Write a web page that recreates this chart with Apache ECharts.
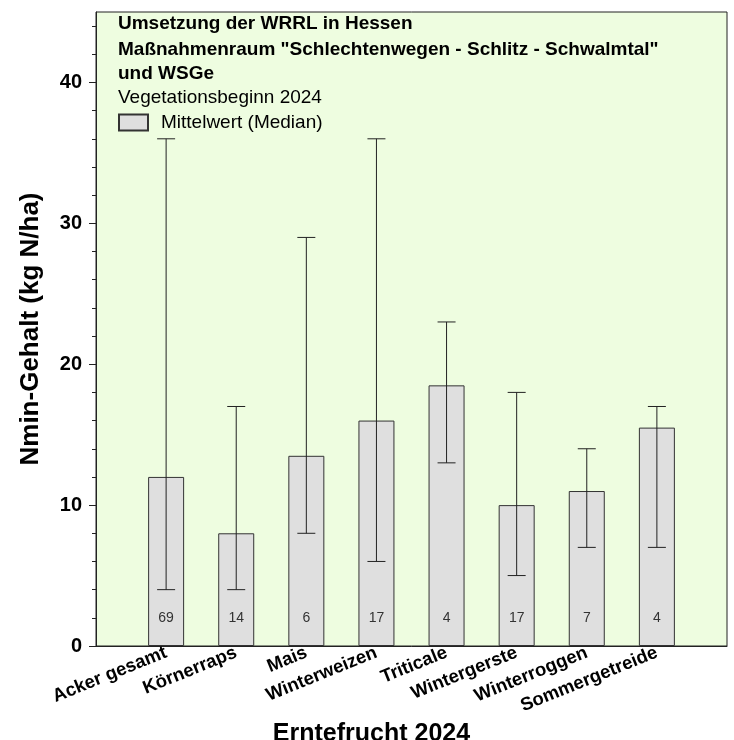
<!DOCTYPE html>
<html>
<head>
<meta charset="utf-8">
<script src="https://cdn.jsdelivr.net/npm/echarts@6/dist/echarts.min.js"></script>
<style>html,body{margin:0;padding:0;background:#fff;}#c{width:734px;height:740px;}</style>
</head>
<body>
<div id="c"></div>
<script>
const categories = ['Acker gesamt', 'Körnerraps', 'Mais', 'Winterweizen', 'Triticale', 'Wintergerste', 'Winterroggen', 'Sommergetreide'];
const medians = [12, 8, 13.5, 16, 18.5, 10, 11, 15.5];
const lows = [4, 4, 8, 6, 13, 5, 7, 7];
const highs = [36, 17, 29, 36, 23, 18, 14, 17];
const counts = [69, 14, 6, 17, 4, 17, 7, 4];
const yTicks = [0, 10, 20, 30, 40];

const axisCats = [''].concat(categories, ['']);
const barData = ['-'].concat(medians, ['-']);
const errData = categories.map((c, i) => [i + 1, lows[i], highs[i]]);

const FONT = 'Liberation Sans, Arial, sans-serif';
const tStyle = (w) => ({fontFamily: FONT, fontSize: 19, fontWeight: w, color: '#000'});
const chart = echarts.init(document.getElementById('c'), null, {renderer: 'canvas'});
chart.setOption({
  animation: false,
  textStyle: {fontFamily: FONT},
  grid: {left: 96, right: 7, top: 12, bottom: 94, outerBoundsMode: 'none', containLabel: false,
    show: true, backgroundColor: '#eefde0', borderColor: '#222', borderWidth: 1},
  title: [
    {text: 'Umsetzung der WRRL in Hessen', left: 118, top: 14, padding: 0, textStyle: tStyle('bold')},
    {text: 'Maßnahmenraum "Schlechtenwegen - Schlitz - Schwalmtal"', left: 118, top: 40, padding: 0, textStyle: tStyle('bold')},
    {text: 'und WSGe', left: 118, top: 64, padding: 0, textStyle: tStyle('bold')},
    {text: 'Vegetationsbeginn 2024', left: 118, top: 88, padding: 0, textStyle: tStyle('normal')}
  ],
  legend: {
    left: 118, top: 113, padding: 0, itemWidth: 29, itemHeight: 16, icon: 'rect',
    textStyle: {fontFamily: FONT, fontSize: 19, color: '#000', padding: [0, 0, 0, 8]},
    data: ['Mittelwert (Median)']
  },
  xAxis: {
    type: 'category', data: axisCats, boundaryGap: false,
    name: 'Erntefrucht 2024', nameLocation: 'middle', nameGap: 68,
    nameTextStyle: {fontFamily: FONT, fontSize: 25, fontWeight: 'bold', color: '#000', padding: [0, 80, 0, 0]},
    axisLine: {show: true, lineStyle: {color: '#222'}},
    axisTick: {show: false},
    axisLabel: {rotate: 22, margin: 6, interval: 0, fontFamily: FONT, fontSize: 18.5, fontWeight: 'bold', color: '#000'},
    splitLine: {show: false}
  },
  yAxis: {
    type: 'value', min: 0, max: 45, interval: 10,
    name: 'Nmin-Gehalt (kg N/ha)', nameLocation: 'middle', nameGap: 52,
    nameTextStyle: {fontFamily: FONT, fontSize: 26, fontWeight: 'bold', color: '#000'},
    axisLine: {show: true, lineStyle: {color: '#222'}},
    axisTick: {show: true, length: 7, customValues: yTicks, lineStyle: {color: '#222'}},
    minorTick: {show: true, splitNumber: 5, length: 4, lineStyle: {color: '#222'}},
    axisLabel: {customValues: yTicks, fontFamily: FONT, fontSize: 20, fontWeight: 'bold', color: '#000', margin: 14},
    splitLine: {show: false}
  },
  series: [
    {
      name: 'Mittelwert (Median)', type: 'bar', data: barData, barWidth: 36,
      itemStyle: {color: '#dfdfdf', borderColor: '#333', borderWidth: 1},
      label: {show: true, position: 'insideBottom', distance: 21, fontFamily: FONT, fontSize: 14, color: '#333',
        formatter: p => String(counts[p.dataIndex - 1])},
      z: 2
    },
    {
      name: 'err', type: 'custom', data: errData, z: 5,
      renderItem: function (params, api) {
        const x = api.value(0);
        const lo = api.coord([x, api.value(1)]);
        const hi = api.coord([x, api.value(2)]);
        const cap = 9;
        const st = {stroke: '#222', lineWidth: 1};
        return {type: 'group', children: [
          {type: 'line', shape: {x1: lo[0], y1: lo[1], x2: hi[0], y2: hi[1]}, style: st},
          {type: 'line', shape: {x1: hi[0] - cap, y1: hi[1], x2: hi[0] + cap, y2: hi[1]}, style: st},
          {type: 'line', shape: {x1: lo[0] - cap, y1: lo[1], x2: lo[0] + cap, y2: lo[1]}, style: st}
        ]};
      }
    }
  ]
});
</script>
</body>
</html>
